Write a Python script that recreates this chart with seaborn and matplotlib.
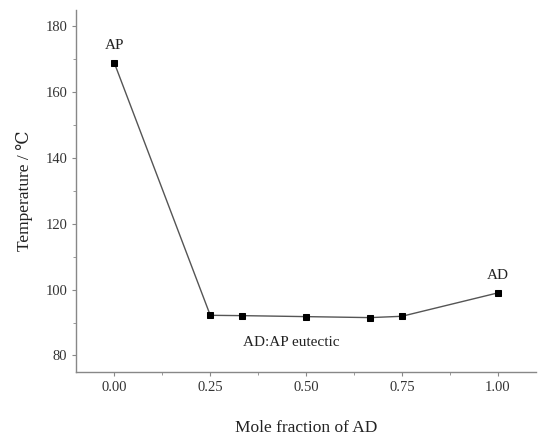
import pandas as pd
import matplotlib
matplotlib.use('Agg')
import matplotlib.pyplot as plt
import seaborn as sns
from matplotlib.ticker import MultipleLocator

# Data
mole_fraction = [0.0, 0.25, 1/3, 0.5, 2/3, 0.75, 1.0]
temperature = [168.8, 92.2, 92.1, 91.8, 91.5, 91.9, 99.0]

df = pd.DataFrame({'x': mole_fraction, 'T': temperature})

sns.set_style('ticks')
plt.rcParams['font.family'] = ['Liberation Serif', 'DejaVu Serif']

fig = plt.figure(figsize=(5.48, 4.37), dpi=100)
ax = fig.add_axes([0.139, 0.149, 0.839, 0.828])

sns.lineplot(data=df, x='x', y='T', ax=ax, color='#555555', linewidth=1,
             marker='s', markersize=4.5, markerfacecolor='black',
             markeredgecolor='black')

ax.set_xlim(-0.1, 1.1)
ax.set_ylim(75, 185)
ax.xaxis.set_major_locator(MultipleLocator(0.25))
ax.xaxis.set_minor_locator(MultipleLocator(0.125))
ax.yaxis.set_major_locator(MultipleLocator(20))
ax.yaxis.set_minor_locator(MultipleLocator(10))
ax.xaxis.set_major_formatter(matplotlib.ticker.FormatStrFormatter('%.2f'))

for side in ['top', 'right']:
    ax.spines[side].set_visible(False)
for side in ['left', 'bottom']:
    ax.spines[side].set_color('#888888')
    ax.spines[side].set_linewidth(1)

ax.tick_params(which='major', direction='out', length=3, color='#888888',
               labelsize=10.5, labelcolor='#333333')
ax.tick_params(which='minor', direction='out', length=2, color='#888888')

ax.text(0.0, 174.2, 'AP', ha='center', va='center', fontsize=11, color='#222222')
ax.text(1.0, 104.3, 'AD', ha='center', va='center', fontsize=11, color='#222222')
ax.text(0.461, 83.9, 'AD:AP eutectic', ha='center', va='center', fontsize=11,
        color='#222222')

ax.set_xlabel('Mole fraction of AD', fontsize=12.5, color='#222222', labelpad=19)
ax.set_ylabel('Temperature / ℃', fontsize=12.5, color='#222222', labelpad=9)

fig.savefig('out.png', dpi=100)
